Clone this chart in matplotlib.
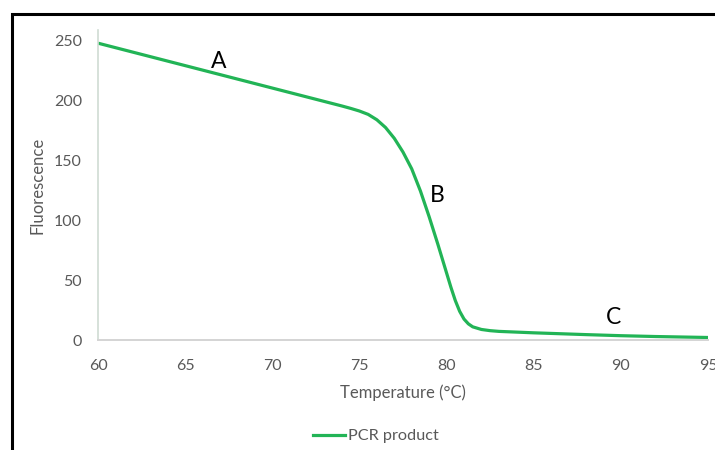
import matplotlib
matplotlib.use("Agg")
import matplotlib.pyplot as plt
from matplotlib.patches import Rectangle
from matplotlib.lines import Line2D

# Melt curve of the PCR product
temperature = [60, 62, 64, 66, 68, 70, 72, 74, 74.5, 75, 75.5, 76, 76.5, 77,
               77.5, 78, 78.5, 79, 79.5, 80, 80.25, 80.5, 80.75, 81, 81.25,
               81.5, 82, 82.5, 83, 85, 88, 90, 92, 95]
fluorescence = [248, 240.5, 233, 225.5, 218, 210.5, 203, 195.5, 193.5, 191.3,
                188.5, 184, 177.5, 168.5, 157, 143, 124.5, 103, 80, 56, 44, 33,
                24, 17.5, 13.5, 11, 8.8, 7.8, 7.2, 6, 4.5, 3.6, 2.9, 2.1]

x_ticks = [60, 65, 70, 75, 80, 85, 90, 95]
y_ticks = [0, 50, 100, 150, 200, 250]

# Region labels on the curve
region_labels = ["A", "B", "C"]
region_x = [66.9, 79.45, 89.6]
region_y = [233, 121, 19]

series_name = "PCR product"
green = "#22b456"
tick_gray = "#595959"

plt.rcParams["font.family"] = ["Lato", "DejaVu Sans"]

fig = plt.figure(figsize=(7.15, 4.5), dpi=100)
fig.patch.set_facecolor("white")
ax = fig.add_axes([98 / 715, 1 - 340 / 450, 610 / 715, 310 / 450])

ax.plot(temperature, fluorescence, color=green, lw=2.3, solid_capstyle="butt",
        solid_joinstyle="round")

ax.set_xlim(60, 95)
ax.set_ylim(0, 259)
ax.set_xticks(x_ticks)
ax.set_yticks(y_ticks)
ax.tick_params(length=0, colors=tick_gray, labelsize=11.5)
ax.tick_params(axis="y", pad=11.5)
ax.tick_params(axis="x", pad=14)

for side in ("top", "right"):
    ax.spines[side].set_visible(False)
ax.spines["left"].set_color("#cfdcd3")
ax.spines["bottom"].set_color("#d4d4d4")
ax.spines["left"].set_linewidth(1.2)
ax.spines["bottom"].set_linewidth(1.4)

ax.set_xlabel("Temperature (°C)", color=tick_gray, fontsize=12, labelpad=8)
ax.set_ylabel("Fluorescence", color=tick_gray, fontsize=12, labelpad=6)

for lab, lx, ly in zip(region_labels, region_x, region_y):
    ax.text(lx, ly, lab, color="black", fontsize=16.5, ha="center", va="center")

handle = Line2D([], [], color=green, lw=2.3)
fig.legend([handle], [series_name], loc="center", bbox_to_anchor=(376 / 715, 1 - 436 / 450),
           frameon=False, fontsize=11.7, labelcolor=tick_gray, handlelength=2.0,
           handletextpad=0.2)

# Outer frame (only the top and left edges fall inside the canvas)
fig.patches.append(Rectangle((12 / 715, -0.1), 1.2, 1 - 14 / 450 + 0.1,
                             transform=fig.transFigure, fill=False,
                             edgecolor="black", lw=2.2, zorder=10))

fig.savefig("out.png", dpi=100, facecolor="white")
